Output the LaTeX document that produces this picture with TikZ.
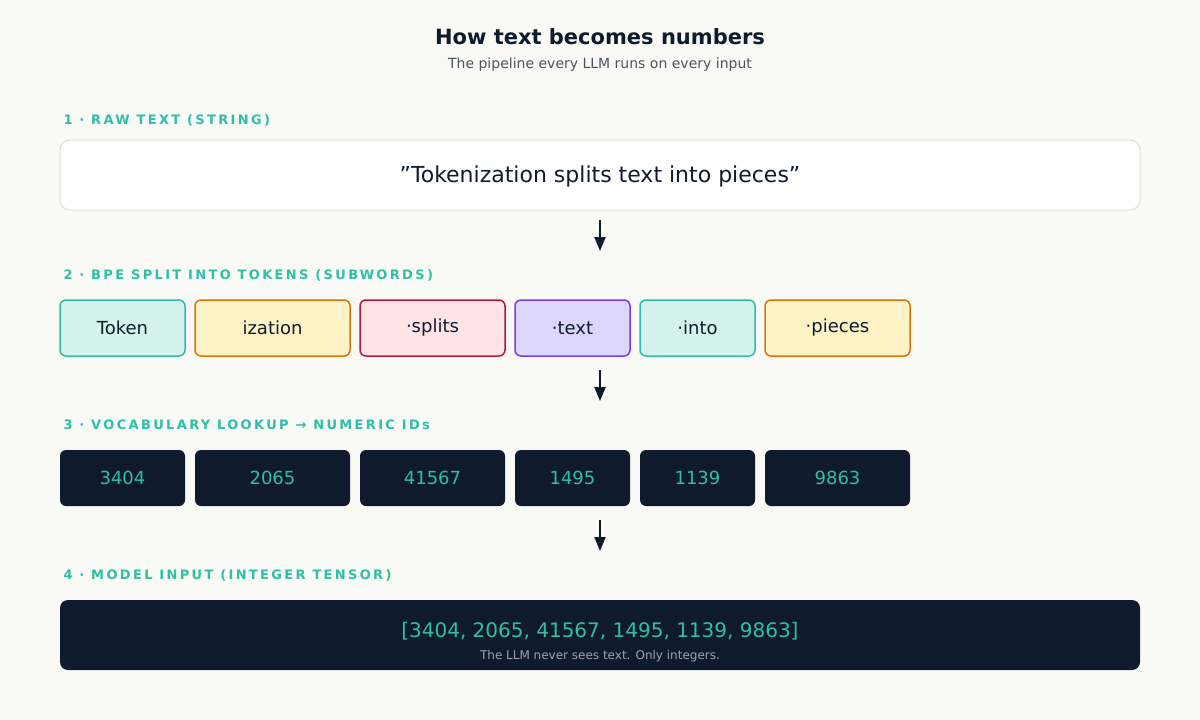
\documentclass[tikz,border=0pt]{standalone}
\usepackage{fontspec}
\setmainfont{DejaVu Sans}
\usetikzlibrary{arrows.meta}
\definecolor{bg}{HTML}{F9F9F6}
\definecolor{ink}{HTML}{0F1B2D}
\definecolor{teal}{HTML}{2EBFA5}
\definecolor{tealf}{HTML}{D5F2EC}
\definecolor{amb}{HTML}{D97706}
\definecolor{ambf}{HTML}{FEF3C7}
\definecolor{ros}{HTML}{BE123C}
\definecolor{rosf}{HTML}{FFE4E6}
\definecolor{vio}{HTML}{7C3AED}
\definecolor{viof}{HTML}{DDD6FE}
\definecolor{sub}{HTML}{4B5563}
\definecolor{gr}{HTML}{9CA3AF}
\begin{document}
\begin{tikzpicture}[x=1pt,y=-1pt,
 lab/.style={anchor=west,text=teal,font=\fontsize{13}{15}\selectfont\bfseries\addfontfeature{LetterSpace=18}},
 tok/.style={draw=#1,fill=#1f,line width=1.5pt,rounded corners=6pt,font=\fontsize{18}{20}\selectfont,text=ink},
 idb/.style={fill=ink,rounded corners=6pt,font=\fontsize{18}{20}\selectfont,text=teal},
 arr/.style={-{Triangle[width=11pt,length=14pt]},line width=2pt,draw=ink}]
\fill[bg] (0,0) rectangle (1200,720);
\node[font=\fontsize{21}{24}\selectfont\bfseries,text=ink] (t) at (600,37) {How text becomes numbers};
\node[font=\fontsize{14}{16}\selectfont,text=sub] (s) at (600,65) {The pipeline every LLM runs on every input};
\node[lab] (l1) at (60,120) {1 · RAW TEXT (STRING)};
\node[lab] (l2) at (60,275) {2 · BPE SPLIT INTO TOKENS (SUBWORDS)};
\node[lab] (l3) at (60,425) {3 · VOCABULARY LOOKUP → NUMERIC IDs};
\node[lab] (l4) at (60,575) {4 · MODEL INPUT (INTEGER TENSOR)};
\draw[draw=gray!25,fill=white,line width=1pt,rounded corners=10pt] (60,140) rectangle (1140,210);
\node[font=\fontsize{22}{24}\selectfont,text=ink] (raw) at (600,176) {"Tokenization splits text into pieces"};
\coordinate (a1) at (600,220); \coordinate (b1) at (600,251);
\draw[arr] (a1) -- (b1);
\foreach \xa/\xb/\c/\t [count=\i] in {60/185/teal/Token,195/350/amb/ization,360/505/ros/·splits,515/630/vio/·text,640/755/teal/·into,765/910/amb/·pieces}{
  \draw[tok=\c] (\xa,300) rectangle (\xb,356);
  \node[font=\fontsize{18}{20}\selectfont,text=ink] (tk\i) at ({(\xa+\xb)/2},328) {\t};
}
\coordinate (a2) at (600,370); \coordinate (b2) at (600,401);
\draw[arr] (a2) -- (b2);
\foreach \xa/\xb/\t [count=\i] in {60/185/3404,195/350/2065,360/505/41567,515/630/1495,640/755/1139,765/910/9863}{
  \fill[ink,rounded corners=6pt] (\xa,450) rectangle (\xb,506);
  \node[font=\fontsize{18}{20}\selectfont,text=teal] (id\i) at ({(\xa+\xb)/2},478) {\t};
}
\coordinate (a3) at (600,520); \coordinate (b3) at (600,551);
\draw[arr] (a3) -- (b3);
\fill[ink,rounded corners=8pt] (60,600) rectangle (1140,670);
\node[font=\fontsize{20}{22}\selectfont,text=teal] (vec) at (600,631) {[3404, 2065, 41567, 1495, 1139, 9863]};
\node[font=\fontsize{12}{14}\selectfont,text=gr] (note) at (600,656) {The LLM never sees text. Only integers.};
\end{tikzpicture}
\end{document}
